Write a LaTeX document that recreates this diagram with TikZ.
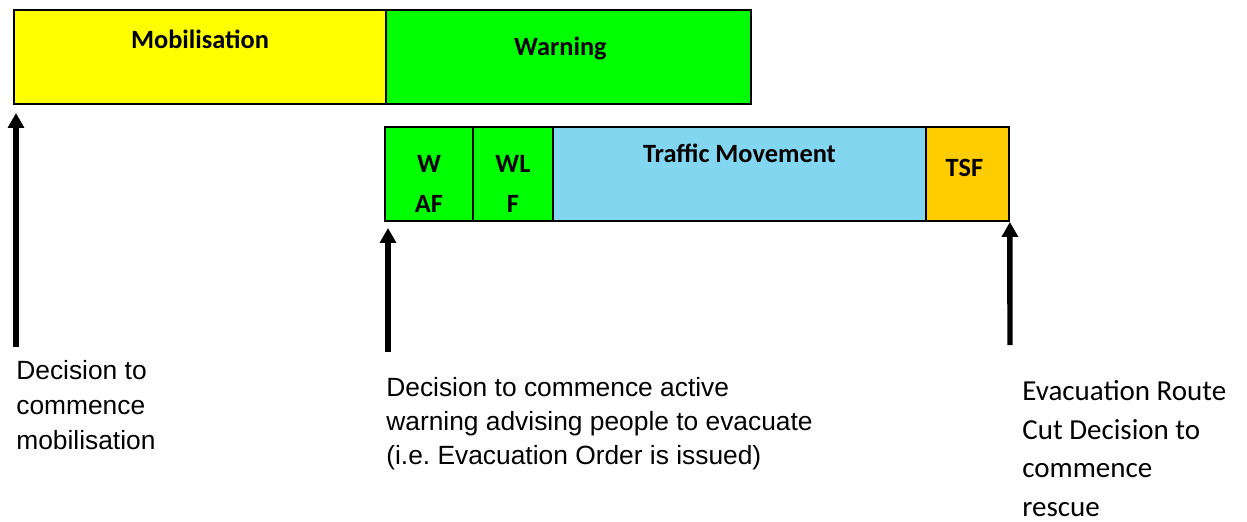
\documentclass[tikz,border=0pt]{standalone}
\usepackage{fontspec}
\setmainfont{Liberation Sans}
\newfontfamily\calibri{Carlito}
\usetikzlibrary{positioning,arrows.meta}
\definecolor{mobyellow}{RGB}{255,255,0}
\definecolor{warngreen}{RGB}{0,255,0}
\definecolor{trafficblue}{RGB}{130,214,240}
\definecolor{tsforange}{RGB}{255,204,0}
\frenchspacing

\begin{document}
\begin{tikzpicture}[x=0.02cm, y=-0.02cm]
\tikzset{phase/.style={draw, line width=1.2pt, inner sep=0pt, outer sep=0pt, minimum height=1.88cm},
	phaselabel/.style={font=\calibri\bfseries\fontsize{15}{22.8}\selectfont, inner sep=0pt, align=center},
	decision/.style={-{Triangle[length=8.5pt,width=9pt]}, line width=3.1pt},
	note/.style={anchor=north west, inner sep=0pt, align=left}}
	\useasboundingbox (0,0) rectangle (1247,521);

	% top row
	\node[phase, fill=mobyellow, minimum width=7.44cm, anchor=north west] (mob) at (14,10) {};
	\node[phase, fill=warngreen, minimum width=7.30cm, right=0pt of mob] (warn) {};
	\node[phaselabel, anchor=base] at ([shift={(0,38)}]mob.north) {Mobilisation};
	\node[phaselabel, anchor=base] at ([shift={(-8,45)}]warn.north) {Warning};

	% bottom row
	\node[phase, fill=warngreen, minimum width=1.76cm, anchor=north west] (waf) at (385,127) {};
	\node[phase, fill=warngreen, minimum width=1.6cm, right=0pt of waf] (wlf) {};
	\node[phase, fill=trafficblue, minimum width=7.46cm, right=0pt of wlf] (traffic) {};
	\node[phase, fill=tsforange, minimum width=1.66cm, right=0pt of traffic] (tsf) {};
	\node[phaselabel] at ([shift={(0,9.5)}]waf.center) {W\\AF};
	\node[phaselabel] at ([shift={(0,9.5)}]wlf.center) {WL\\F};
	\node[phaselabel, anchor=base] at ([shift={(0,35)}]traffic.north) {Traffic Movement};
	\node[phaselabel, anchor=base] at ([shift={(-3,49)}]tsf.north) {TSF};

	% decision points
	\coordinate (mobstart) at (16,347);
	\coordinate (warnstart) at (388,352);
	\coordinate (cutstart) at (1010,345);
	\draw[decision] (mobstart) -- ([shift={(2,9)}]mob.south west);
	\draw[decision] (warnstart) -- ([shift={(3,7)}]waf.south west);
	\draw[decision] (cutstart) -- ([shift={(1,1)}]tsf.south east);

	\node[note, font=\fontsize{15}{20}\selectfont] (mobnote) at (16,360) {Decision to\\commence\\mobilisation};
	\node[note, font=\fontsize{15}{19.4}\selectfont] (warnnote) at (386,377) {Decision to commence active\\warning advising people to evacuate\\(i.e. Evacuation Order is issued)};
	\node[note, font=\calibri\fontsize{16.5}{22}\selectfont] (cutnote) at (1022,380) {Evacuation Route\\Cut Decision to\\commence\\rescue};
\end{tikzpicture}
\end{document}
